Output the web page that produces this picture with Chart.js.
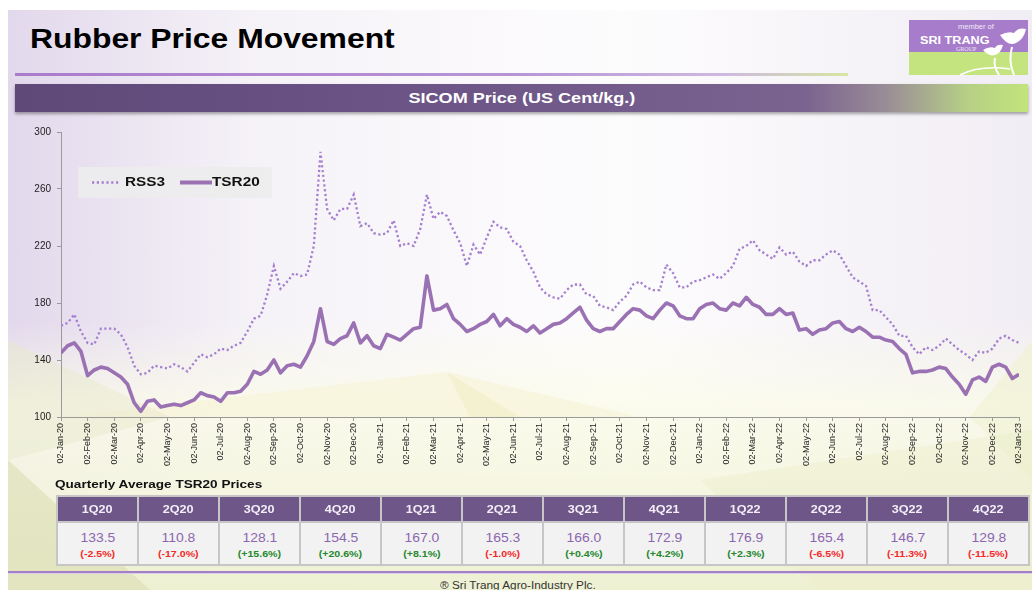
<!DOCTYPE html>
<html>
<head>
<meta charset="utf-8">
<script src="https://cdn.jsdelivr.net/npm/chart.js@4.4.0/dist/chart.umd.min.js"></script>
<style>
  html, body { margin: 0; padding: 0; }
  body {
    width: 1032px; height: 590px; position: relative; overflow: hidden;
    background: #fff; font-family: "Liberation Sans", Arial, Helvetica, sans-serif;
  }
  .abs { position: absolute; }
  .sx { display: inline-block; transform: scaleX(1.18); transform-origin: center; white-space: nowrap; }
  .sxl { display: inline-block; transform: scaleX(1.18); transform-origin: left center; white-space: nowrap; }
  #title { left: 30px; top: 24px; font-size: 27px; font-weight: bold; color: #000; line-height: 31px; }
  #titleLine {
    left: 15px; top: 73px; width: 833px; height: 3px;
    background: linear-gradient(to right, #a97ccc 0%, #b894d6 60%, #cdb9e0 85%, #d6e6a2 100%);
  }
  #bar {
    left: 15px; top: 84px; width: 1013px; height: 28px;
    background: linear-gradient(to right, #5e4979 0%, #6e5688 45%, #7a638f 78%, #9a8c97 86%, #b6cf86 94%, #c2e47b 100%);
    box-shadow: 0 2px 3px rgba(0,0,0,0.35);
    color: #fff; font-weight: bold; font-size: 14px; text-align: center; line-height: 29px;
  }
  #bar .sx { transform: scaleX(1.29); }
  #chartBox { left: 0; top: 120px; width: 1032px; height: 360px; }
  #legend {
    left: 78px; top: 167px; width: 194px; height: 31px;
    background: rgba(236,236,236,0.85);
  }
  #legend .lbl { position: absolute; top: 7px; font-size: 13px; font-weight: bold; color: #111; }
  #tblTitle { left: 55px; top: 478px; font-size: 11.5px; font-weight: bold; color: #111; }
  table#q {
    position: absolute; left: 56px; top: 495px; width: 974px;
    border-collapse: collapse; table-layout: fixed;
  }
  table#q td { border: 2px solid #c6c6c6; text-align: center; padding: 0; }
  table#q tr.h td { background: #6f5689; color: #f3eef7; font-weight: bold; font-size: 10.7px; height: 24px; }
  table#q tr.b td { background: #f2f2f2; height: 41px; vertical-align: top; }
  .val { font-size: 13.5px; color: #8c66ae; line-height: 15px; margin-top: 7px; }
  .val .sx { transform: scaleX(1.03); }
  .chg { font-size: 9px; font-weight: bold; line-height: 11px; margin-top: 4px; }
  .up { color: #24882c; }
  .dn { color: #f42a2a; }
  #footLine { left: 8px; top: 571px; width: 1024px; height: 2px; background: #a57fc6; box-shadow: 0 1px 0 #dcd0e8; }
  #foot { left: 440px; top: 579px; font-size: 10.5px; color: #333; }
  #foot .sxl { transform: scaleX(1.12); }
</style>
</head>
<body>

<svg class="abs" style="left:0;top:0" width="1032" height="590">
  <defs>
    <linearGradient id="gTop" x1="0" y1="0" x2="1" y2="0">
      <stop offset="0" stop-color="#e2d8ec"/>
      <stop offset="0.25" stop-color="#f6f3f8"/>
      <stop offset="0.6" stop-color="#fdfcfd"/>
      <stop offset="1" stop-color="#f1edf4"/>
    </linearGradient>
    <linearGradient id="gLow" x1="0" y1="0" x2="0" y2="1">
      <stop offset="0" stop-color="#fafae8" stop-opacity="0"/>
      <stop offset="0.3" stop-color="#fbfbea" stop-opacity="0.8"/>
      <stop offset="1" stop-color="#eef0d2" stop-opacity="1"/>
    </linearGradient>
  </defs>
  <rect x="8" y="10" width="1024" height="580" fill="url(#gTop)"/>
  <rect x="8" y="322" width="1024" height="268" fill="url(#gLow)"/>
  <polygon points="61,417 447,372 640,417" fill="#f6f4d6" opacity="0.6"/>
  <polygon points="447,372 520,417 470,417" fill="#efecbe" opacity="0.45"/>
  <polygon points="8,340 170,417 8,460" fill="#e7e9c9" opacity="0.45"/>
  <polygon points="8,460 150,590 8,590" fill="#dadeb3" opacity="0.6"/>
  <polygon points="970,417 1032,340 1032,480" fill="#f0f1d2" opacity="0.6"/>
  <polygon points="700,480 1032,430 1032,590 820,590" fill="#eaedca" opacity="0.45"/>
  <!-- logo -->
  <rect x="909" y="20" width="119" height="32" fill="#a67ccb"/>
  <rect x="909" y="52" width="119" height="23" fill="#c3e47e"/>
  <text x="958" y="29" font-size="7.5" fill="#f2eaf8" font-family="Liberation Sans, Arial">member of</text>
  <text x="920" y="44" font-size="11" font-weight="bold" fill="#fff" font-family="Liberation Sans, Arial" transform="translate(920 0) scale(1.15 1) translate(-920 0)">SRI TRANG</text>
  <text x="956" y="51" font-size="6" fill="#efe6f6" font-family="Liberation Serif, serif">GROUP</text>
  <path d="M1000,35 q8,-4 14,-2 q4,-6 12,-4 q-2,10 -10,14 q-8,4 -16,-8 z" fill="#fff"/>
  <path d="M983,50 q6,-4 12,-2 q2,-4 8,-3 q-2,8 -8,10 q-6,2 -12,-5 z" fill="#fff"/>
  <path d="M1012,47 q-4,14 2,28" stroke="#fff" stroke-width="2" fill="none"/>
  <path d="M995,58 q-2,8 4,17" stroke="#fff" stroke-width="2" fill="none"/>
  <path d="M960,75 q20,-10 50,-6" stroke="#fff" stroke-width="1.5" fill="none"/>
</svg>

<div id="title" class="abs"><span class="sxl">Rubber Price Movement</span></div>
<div id="titleLine" class="abs"></div>
<div id="bar" class="abs"><span class="sx">SICOM Price (US Cent/kg.)</span></div>

<div id="chartBox" class="abs"><canvas id="c" width="1032" height="360"></canvas></div>

<div id="legend" class="abs">
  <svg class="abs" style="left:0;top:0" width="194" height="31">
    <line x1="14" y1="15.5" x2="42" y2="15.5" stroke="#a47fcf" stroke-width="2.3" stroke-dasharray="2.2 2.6"/>
    <line x1="102" y1="15.5" x2="134" y2="15.5" stroke="#9a71b3" stroke-width="4"/>
  </svg>
  <span class="lbl" style="left:47px"><span class="sxl">RSS3</span></span>
  <span class="lbl" style="left:134px"><span class="sxl">TSR20</span></span>
</div>

<div id="tblTitle" class="abs"><span class="sxl">Quarterly Average TSR20 Prices</span></div>
<table id="q"><tbody><tr class="h" id="qh"></tr><tr class="b" id="qb"></tr></tbody></table>

<div id="footLine" class="abs"></div>
<div id="foot" class="abs"><span class="sxl">® Sri Trang Agro-Industry Plc.</span></div>

<script>
// month tick labels (one per month, Jan-20 .. Jan-23)
const monthLabels = [
  '02-Jan-20','02-Feb-20','02-Mar-20','02-Apr-20','02-May-20','02-Jun-20',
  '02-Jul-20','02-Aug-20','02-Sep-20','02-Oct-20','02-Nov-20','02-Dec-20',
  '02-Jan-21','02-Feb-21','02-Mar-21','02-Apr-21','02-May-21','02-Jun-21',
  '02-Jul-21','02-Aug-21','02-Sep-21','02-Oct-21','02-Nov-21','02-Dec-21',
  '02-Jan-22','02-Feb-22','02-Mar-22','02-Apr-22','02-May-22','02-Jun-22',
  '02-Jul-22','02-Aug-22','02-Sep-22','02-Oct-22','02-Nov-22','02-Dec-22',
  '02-Jan-23'
];

// prices, 4 samples per month (roughly weekly)
const rss3 = [
  164, 166, 172, 160,   152, 151, 162, 162,   162, 158, 149, 136,
  130, 131, 136, 135,   134, 137, 135, 132,   138, 144, 142, 144,
  148, 147, 150, 152,   160, 169, 171, 186,   206, 190, 195, 201,
  199, 200, 220, 286,   246, 238, 246, 246,   256, 234, 236, 229,
  228, 229, 238, 220,   222, 220, 232, 256,   239, 244, 241, 231,
  222, 206, 221, 214,   226, 237, 233, 232,   223, 220, 210, 202,
  191, 186, 184, 183,   189, 193, 193, 186,   185, 178, 177, 175,
  181, 185, 193, 195,   191, 189, 189, 207,   201, 191, 191, 195,
  196, 198, 200, 197,   201, 206, 218, 220,   224, 217, 214, 211,
  219, 214, 216, 209,   206, 210, 210, 214,   217, 214, 206, 198,
  195, 192, 175, 175,   170, 165, 157, 157,   149, 144, 149, 147,
  150, 155, 151, 147,   144, 140, 146, 145,   148, 155, 157, 154,
  152
];

const tsr20 = [
  145, 150, 152, 146,   129, 133, 135, 134,   131, 128, 123, 110,
  104, 111, 112, 107,   108, 109, 108, 110,   112, 117, 115, 114,
  111, 117, 117, 118,   123, 132, 130, 133,   140, 131, 136, 137,
  135, 143, 153, 176,   153, 151, 155, 157,   166, 152, 157, 150,
  148, 158, 156, 154,   158, 162, 163, 199,   175, 176, 179, 169,
  165, 160, 162, 165,   167, 172, 164, 169,   165, 163, 160, 164,
  159, 162, 165, 166,   169, 173, 177, 168,   162, 160, 162, 162,
  167, 172, 176, 175,   171, 169, 175, 180,   178, 171, 169, 169,
  176, 179, 180, 176,   175, 180, 178, 184,   179, 177, 172, 172,
  176, 172, 173, 161,   162, 158, 161, 162,   166, 167, 162, 160,
  163, 160, 156, 156,   154, 153, 148, 144,   131, 132, 132, 133,
  135, 134, 128, 123,   116, 126, 128, 125,   135, 137, 135, 127,
  130
];

const yTicks = [100, 140, 180, 220, 260, 300];

// quarterly table
const quarters = ['1Q20','2Q20','3Q20','4Q20','1Q21','2Q21','3Q21','4Q21','1Q22','2Q22','3Q22','4Q22'];
const qAvg = ['133.5','110.8','128.1','154.5','167.0','165.3','166.0','172.9','176.9','165.4','146.7','129.8'];
const qChg = ['-2.5%','-17.0%','+15.6%','+20.6%','+8.1%','-1.0%','+0.4%','+4.2%','+2.3%','-6.5%','-11.3%','-11.5%'];

const qh = document.getElementById('qh');
const qb = document.getElementById('qb');
quarters.forEach((q, i) => {
  const th = document.createElement('td');
  th.innerHTML = '<span class="sx">' + q + '</span>';
  qh.appendChild(th);
  const td = document.createElement('td');
  const cls = qChg[i].startsWith('-') ? 'dn' : 'up';
  td.innerHTML = '<div class="val"><span class="sx">' + qAvg[i] + '</span></div>' +
    '<div class="chg ' + cls + '"><span class="sx">(' + qChg[i] + ')</span></div>';
  qb.appendChild(td);
});

const samplesPerMonth = 4;
const toPoints = arr => arr.map((v, i) => ({ x: i / samplesPerMonth, y: v }));

new Chart(document.getElementById('c'), {
  type: 'line',
  data: {
    datasets: [
      {
        label: 'RSS3',
        data: toPoints(rss3),
        borderColor: '#a47fcf',
        borderWidth: 2.3,
        borderDash: [2.2, 2.6],
        pointRadius: 0,
        tension: 0,
      },
      {
        label: 'TSR20',
        data: toPoints(tsr20),
        borderColor: '#9a71b3',
        borderWidth: 3.6,
        borderJoinStyle: 'round',
        pointRadius: 0,
        tension: 0,
      },
    ],
  },
  options: {
    responsive: false,
    animation: false,
    layout: { padding: { left: 0, right: 13, top: 10, bottom: 0 } },
    plugins: { legend: { display: false }, tooltip: { enabled: false } },
    scales: {
      x: {
        type: 'linear',
        min: 0,
        max: monthLabels.length - 1,
        afterFit: s => { s.height = 63; },
        afterBuildTicks: s => { s.ticks = monthLabels.map((_, i) => ({ value: i })); },
        ticks: {
          autoSkip: false,
          maxRotation: 90,
          minRotation: 90,
          padding: 2,
          color: '#222',
          font: { family: 'Liberation Sans, Arial', size: 9 },
          callback: v => monthLabels[v],
        },
        grid: { drawOnChartArea: false, tickLength: 4, color: '#9a9a9a' },
        border: { color: '#9a9a9a', width: 1 },
      },
      y: {
        min: 100,
        max: 300,
        afterFit: s => { s.width = 61; },
        afterBuildTicks: s => { s.ticks = yTicks.map(v => ({ value: v })); },
        ticks: {
          padding: 6,
          color: '#222',
          font: { family: 'Liberation Sans, Arial', size: 10 },
        },
        grid: { drawOnChartArea: false, tickLength: 4, color: '#9a9a9a' },
        border: { color: '#9a9a9a', width: 1 },
      },
    },
  },
});
</script>
</body>
</html>
